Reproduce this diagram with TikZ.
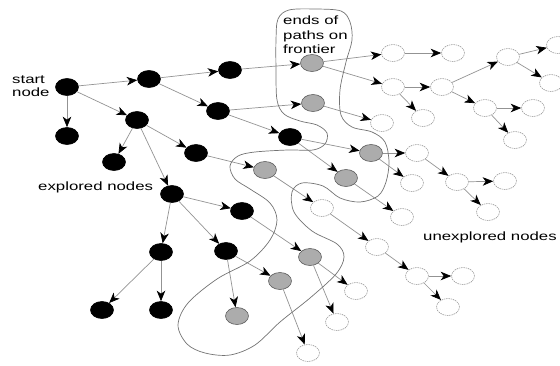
\documentclass[tikz,border=0pt]{standalone}
\usepackage{fontspec}
\setmainfont{Liberation Sans}
\usepackage{graphicx}
\usetikzlibrary{arrows.meta,shapes.geometric}
\newcommand{\wide}[1]{\scalebox{1.4}[1]{#1}}
\begin{document}
\begin{tikzpicture}[x=1pt,y=-1pt,
  nd/.style={ellipse, minimum width=23pt, minimum height=17pt, inner sep=0pt, line width=0.6pt},
  expl/.style={nd, fill=black, draw=black},
  fron/.style={nd, fill=gray!65, draw=gray!75!black},
  unex/.style={nd, fill=white, draw=gray!75, dash pattern=on 1.5pt off 0.8pt},
  edge/.style={draw=gray!85, line width=0.7pt, -{Stealth[length=10.5pt,width=8.5pt,inset=3pt,color=black]}},
  lbl/.style={font=\fontsize{12}{14}\selectfont, inner sep=0pt, anchor=base west},
  bound/.style={draw=gray!90!black, line width=0.7pt}]
\useasboundingbox (0,0) rectangle (560,365);
% explored
\node[expl] (S) at (67,87) {};
\node[expl] (A) at (149,79) {};
\node[expl] (B) at (230,70) {};
\node[expl] (C) at (218,111) {};
\node[expl] (D) at (67,136) {};
\node[expl] (E) at (137,120) {};
\node[expl] (F) at (114,162) {};
\node[expl] (G) at (196,153) {};
\node[expl] (H) at (290,137) {};
\node[expl] (I) at (172,194) {};
\node[expl] (J) at (242,211) {};
\node[expl] (K) at (161,252) {};
\node[expl] (L) at (226,251) {};
\node[expl] (M) at (102,310) {};
\node[expl] (N) at (161,310) {};
% frontier
\node[fron] (P1) at (312,63) {};
\node[fron] (P2) at (313,103) {};
\node[fron] (P3) at (265,170) {};
\node[fron] (P4) at (371,153) {};
\node[fron] (P5) at (346,178) {};
\node[fron] (P6) at (310,257) {};
\node[fron] (P7) at (280,281) {};
\node[fron] (P8) at (237,316) {};
% unexplored
\node[unex] (W1) at (393,53) {};
\node[unex] (W2) at (453,53) {};
\node[unex] (W3) at (393,87) {};
\node[unex] (W4) at (442,87) {};
\node[unex] (W5) at (423,118) {};
\node[unex] (W6) at (382,123) {};
\node[unex] (W7) at (508,57) {};
\node[unex] (W8) at (558,45) {};
\node[unex] (W9) at (551,83) {};
\node[unex] (W10) at (485,108) {};
\node[unex] (W11) at (533,108) {};
\node[unex] (W12) at (515,140) {};
\node[unex] (W13) at (417,153) {};
\node[unex] (W14) at (412,183) {};
\node[unex] (W15) at (457,182) {};
\node[unex] (W16) at (505,181) {};
\node[unex] (W17) at (488,212) {};
\node[unex] (W18) at (402,217) {};
\node[unex] (W19) at (322,208) {};
\node[unex] (W21) at (377,247) {};
\node[unex] (W22) at (417,276) {};
\node[unex] (W23) at (463,276) {};
\node[unex] (W24) at (448,307) {};
\node[unex] (W25) at (356,291) {};
\node[unex] (W26) at (337,322) {};
\node[unex] (W27) at (308,353) {};
% edges
\foreach \a/\b in {S/A,S/D,S/E,A/B,A/C,B/P1,C/P2,C/H,E/F,E/G,E/I,G/P3,H/P4,H/P5,
  I/J,I/K,I/L,J/P6,K/M,K/N,L/P8,L/P7,
  P1/W1,P1/W3,W1/W2,W3/W4,W3/W5,W4/W7,W4/W10,W7/W8,W7/W9,W10/W11,W10/W12,
  P2/W6,P4/W13,P4/W14,W13/W15,W15/W16,W15/W17,P5/W18,P3/W19,W19/W21,W21/W22,
  W22/W23,W22/W24,P6/W25,P6/W26,P7/W27}
  \draw[edge] (\a) -- (\b);
% frontier boundary
\draw[bound] plot[smooth cycle, tension=0.55] coordinates {
 (276,40) (278,19) (289,10) (315,9) (341,11) (350,22) (352,40) (346,62) (340,90)
 (341,115) (352,127) (372,132) (385,142) (389,162) (386,182) (378,196) (360,202)
 (340,198) (323,186) (302,183) (292,192) (294,212) (312,231) (337,244) (344,257)
 (336,274) (310,298) (280,322) (255,345) (230,355) (205,353) (187,344) (178,325)
 (188,303) (217,279) (250,261) (270,240) (277,220) (270,203) (250,189) (235,179)
 (230,166) (238,156) (255,152) (288,150) (313,150) (325,144) (327,133) (317,125)
 (300,121) (284,114) (277,100) (276,70)};
% labels
\node[lbl] (t1) at (12,83) {\wide{start}};
\node[lbl] (t2) at (12,96) {\wide{node}};
\node[lbl] (t3) at (38,190) {\wide{explored nodes}};
\node[lbl] (t4) at (423,240) {\wide{unexplored nodes}};
\node[lbl] (t5) at (283,24) {\wide{ends of}};
\node[lbl] (t6) at (283,39) {\wide{paths on}};
\node[lbl] (t7) at (283,53) {\wide{frontier}};
\end{tikzpicture}
\end{document}
